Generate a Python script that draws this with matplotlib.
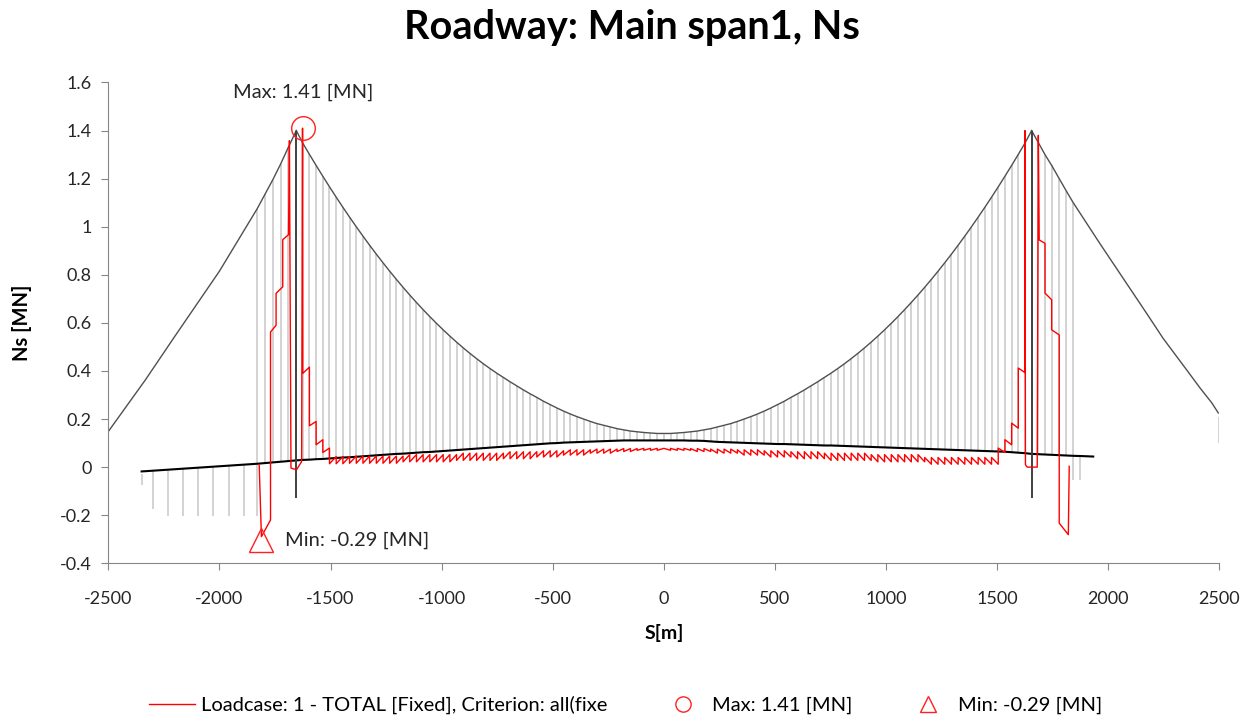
import numpy as np
import matplotlib
matplotlib.use("Agg")
import matplotlib.pyplot as plt
from matplotlib.lines import Line2D

plt.rcParams['font.family'] = ['Lato', 'DejaVu Sans']
plt.rcParams['axes.unicode_minus'] = False

# ---- structure of the bridge ----
hanger_s = np.linspace(-1625, 1625, 109)   # main span hanger positions [m]

cable_top = [1.348, 1.301, 1.255, 1.210, 1.166, 1.123, 1.081, 1.040, 1.000, 0.961,
             0.923, 0.886, 0.850, 0.815, 0.781, 0.748, 0.716, 0.685, 0.655, 0.626,
             0.598, 0.571, 0.545, 0.520, 0.496, 0.473, 0.451, 0.430, 0.410, 0.391,
             0.373, 0.355, 0.338, 0.321, 0.305, 0.290, 0.274, 0.260, 0.246, 0.233,
             0.221, 0.210, 0.200, 0.190, 0.181, 0.174, 0.167, 0.160, 0.155, 0.150,
             0.147, 0.144, 0.142, 0.140, 0.140,
             0.140, 0.142, 0.144, 0.147, 0.150, 0.155, 0.160, 0.167, 0.174, 0.181,
             0.190, 0.200, 0.210, 0.221, 0.233, 0.246, 0.260, 0.274, 0.290, 0.305,
             0.321, 0.338, 0.355, 0.373, 0.391, 0.410, 0.430, 0.451, 0.473, 0.496,
             0.520, 0.545, 0.571, 0.598, 0.626, 0.655, 0.685, 0.716, 0.748, 0.781,
             0.815, 0.850, 0.886, 0.923, 0.961, 1.000, 1.040, 1.081, 1.123, 1.166,
             1.210, 1.255, 1.301, 1.348]

deck_y = [0.030, 0.031, 0.033, 0.034, 0.036, 0.038, 0.040, 0.041, 0.043, 0.045,
          0.047, 0.049, 0.051, 0.053, 0.055, 0.056, 0.058, 0.060, 0.062, 0.063,
          0.065, 0.067, 0.069, 0.071, 0.073, 0.075, 0.077, 0.079, 0.081, 0.083,
          0.085, 0.087, 0.089, 0.091, 0.093, 0.095, 0.097, 0.099, 0.100, 0.102,
          0.103, 0.104, 0.105, 0.106, 0.107, 0.108, 0.109, 0.110, 0.111, 0.111,
          0.111, 0.111, 0.111, 0.111, 0.111,
          0.111, 0.111, 0.111, 0.110, 0.110, 0.109, 0.107, 0.105, 0.104, 0.103,
          0.102, 0.101, 0.100, 0.099, 0.098, 0.097, 0.096, 0.096, 0.095, 0.094,
          0.093, 0.092, 0.091, 0.090, 0.090, 0.089, 0.088, 0.087, 0.086, 0.085,
          0.084, 0.083, 0.082, 0.081, 0.080, 0.079, 0.078, 0.077, 0.076, 0.075,
          0.074, 0.073, 0.072, 0.071, 0.070, 0.069, 0.068, 0.067, 0.066, 0.065,
          0.064, 0.062, 0.060, 0.058]

tower_s = [-1654, 1655]
tower_bot = [-0.13, -0.13]
tower_top = [1.40, 1.40]

left_cable_s = [-2500, -2333, -2200, -2000, -1830, -1795, -1760, -1725, -1690, -1654]
left_cable_v = [0.148, 0.363, 0.545, 0.815, 1.075, 1.135, 1.195, 1.260, 1.330, 1.400]
right_cable_s = [1655, 1685, 1715, 1745, 1779, 1810, 1842, 1962, 2172, 2247, 2352, 2412, 2465, 2495]
right_cable_v = [1.400, 1.350, 1.300, 1.255, 1.200, 1.150, 1.100, 0.930, 0.640, 0.535, 0.405, 0.330, 0.268, 0.225]

side_hanger_s = [-1830, -1795, -1760, -1725, -1690, 1685, 1715, 1745, 1779, 1810, 1842]
side_hanger_top = [1.075, 1.135, 1.195, 1.260, 1.330, 1.350, 1.300, 1.255, 1.200, 1.150, 1.100]
side_hanger_bot = [-0.205, 0.017, 0.020, 0.023, 0.026, 0.054, 0.053, 0.052, 0.050, 0.048, -0.053]

pier_s = [-2350, -2301, -2233, -2165, -2097, -2027, -1959, -1890, 1872, 2500]
pier_top = [-0.030, -0.015, -0.011, -0.006, -0.002, 0.002, 0.006, 0.010, 0.045, 0.210]
pier_bot = [-0.074, -0.175, -0.205, -0.205, -0.205, -0.205, -0.205, -0.205, -0.053, 0.100]

deck_left_s = [-2350, -1830, -1654]
deck_left_v = [-0.018, 0.014, 0.028]
deck_right_s = [1655, 1842, 1880, 1932]
deck_right_v = [0.055, 0.047, 0.046, 0.044]

# ---- Ns result (red) ----
red_left_s = [-1821, -1811, -1770, -1770, -1745, -1745, -1715, -1715, -1689, -1685,
              -1678, -1653, -1630, -1626]
red_left_v = [0.010, -0.289, -0.220, 0.562, 0.590, 0.723, 0.750, 0.946, 0.967, 1.358,
              -0.004, -0.011, 0.023, 1.410]

# saw-tooth between hangers: value at start and end of each hanger interval
saw_start = [0.390, 0.172, 0.093, 0.061, 0.014, 0.014, 0.014, 0.016, 0.016, 0.016,
             0.016, 0.016, 0.016, 0.016, 0.016, 0.022, 0.022, 0.022, 0.022, 0.022,
             0.022, 0.022, 0.022, 0.028, 0.028, 0.028, 0.028, 0.028, 0.028, 0.028,
             0.035, 0.035, 0.035, 0.035, 0.035, 0.042, 0.042, 0.042, 0.042, 0.050,
             0.050, 0.050, 0.050, 0.058, 0.058, 0.058, 0.058, 0.065, 0.065, 0.065,
             0.070, 0.070, 0.070, 0.070,
             0.078, 0.078, 0.078, 0.078, 0.077, 0.077, 0.077, 0.075, 0.075, 0.075,
             0.075, 0.072, 0.072, 0.072, 0.072, 0.068, 0.068, 0.068, 0.068, 0.064,
             0.064, 0.064, 0.064, 0.064, 0.058, 0.058, 0.058, 0.058, 0.058, 0.058,
             0.058, 0.052, 0.052, 0.052, 0.052, 0.052, 0.052, 0.052, 0.052, 0.040,
             0.040, 0.040, 0.040, 0.040, 0.040, 0.040, 0.040, 0.040, 0.040, 0.040,
             0.079, 0.114, 0.183, 0.412]
saw_end = [0.416, 0.190, 0.114, 0.079, 0.044, 0.044, 0.044, 0.046, 0.046, 0.046,
           0.046, 0.046, 0.046, 0.046, 0.046, 0.052, 0.052, 0.052, 0.052, 0.052,
           0.052, 0.052, 0.052, 0.058, 0.058, 0.058, 0.058, 0.058, 0.058, 0.058,
           0.064, 0.064, 0.064, 0.064, 0.064, 0.068, 0.068, 0.068, 0.068, 0.072,
           0.072, 0.072, 0.072, 0.075, 0.075, 0.075, 0.075, 0.077, 0.077, 0.077,
           0.078, 0.078, 0.078, 0.078,
           0.070, 0.070, 0.070, 0.070, 0.065, 0.065, 0.065, 0.058, 0.058, 0.058,
           0.058, 0.050, 0.050, 0.050, 0.050, 0.042, 0.042, 0.042, 0.042, 0.035,
           0.035, 0.035, 0.035, 0.035, 0.028, 0.028, 0.028, 0.028, 0.028, 0.028,
           0.028, 0.022, 0.022, 0.022, 0.022, 0.022, 0.022, 0.022, 0.022, 0.012,
           0.012, 0.012, 0.012, 0.012, 0.012, 0.012, 0.012, 0.012, 0.012, 0.012,
           0.061, 0.093, 0.162, 0.393]

red_right_s = [1625, 1627, 1635, 1680, 1685, 1689, 1715, 1715, 1745, 1745, 1779, 1779, 1820, 1824]
red_right_v = [1.400, 0.010, 0.000, 0.000, 1.380, 0.945, 0.931, 0.724, 0.696, 0.571, 0.550,
               -0.233, -0.281, 0.003]

max_s, max_v = -1623, 1.41
min_s, min_v = -1812, -0.29

# ---- build red polyline ----
saw_s, saw_v = [], []
for j in range(len(saw_start)):
    saw_s += [hanger_s[j], hanger_s[j + 1]]
    saw_v += [saw_start[j], saw_end[j]]
red_s = red_left_s + saw_s + red_right_s
red_v = red_left_v + saw_v + red_right_v

fig = plt.figure(figsize=(12.52, 7.18), dpi=100)
ax = fig.add_axes([0.0865, 0.2155, 0.8875, 0.6696])

grey_h = '#c8c8c8'
# hangers
ax.vlines(hanger_s, deck_y, cable_top, color=grey_h, lw=1.1, zorder=1)
ax.vlines(side_hanger_s, side_hanger_bot, side_hanger_top, color=grey_h, lw=1.1, zorder=1)
ax.vlines(pier_s, pier_bot, pier_top, color=grey_h, lw=1.1, zorder=1)

# cables
main_s = [tower_s[0]] + list(hanger_s) + [tower_s[1]]
main_v = [tower_top[0]] + cable_top + [tower_top[1]]
ax.plot(main_s, main_v, color='#505050', lw=1.0, zorder=2)
ax.plot(left_cable_s, left_cable_v, color='#505050', lw=1.0, zorder=2)
ax.plot(right_cable_s, right_cable_v, color='#505050', lw=1.0, zorder=2)

# deck
ax.plot(deck_left_s + list(hanger_s) + deck_right_s,
        deck_left_v + deck_y + deck_right_v, color='black', lw=1.5, zorder=3)

# towers
ax.vlines(tower_s, tower_bot, tower_top, color='#404040', lw=1.4, zorder=3)

# result
ax.plot(red_s, red_v, color='#ff0000', lw=1.0, zorder=4)
ax.plot([max_s], [max_v], marker='o', ms=17, mfc='none', mec='#ff2020', mew=1.0,
        ls='none', zorder=5)
ax.plot([min_s], [min_v - 0.015], marker='^', ms=17, mfc='none', mec='#ff2020', mew=1.0,
        ls='none', zorder=5)
ax.text(-1940, 1.56, 'Max: 1.41 [MN]', fontsize=14.5, color='#262626', va='center')
ax.text(-1706, -0.305, 'Min: -0.29 [MN]', fontsize=14.5, color='#262626', va='center')

ax.set_xlim(-2500, 2500)
ax.set_ylim(-0.4, 1.6)
ax.set_xticks(np.arange(-2500, 2501, 500))
ax.set_yticks(np.arange(-0.4, 1.61, 0.2))
ax.set_yticklabels(['-0.4', '-0.2', '0', '0.2', '0.4', '0.6', '0.8', '1', '1.2', '1.4', '1.6'])
for sp in ['top', 'right']:
    ax.spines[sp].set_visible(False)
for sp in ['left', 'bottom']:
    ax.spines[sp].set_color('#868686')
ax.tick_params(colors='#868686', labelcolor='#262626', labelsize=13, length=5, direction='out')
ax.tick_params(axis='x', pad=15)
ax.tick_params(axis='y', pad=7)
ax.set_xlabel('S[m]', fontsize=14, fontweight='bold', labelpad=12)
ax.set_ylabel('Ns [MN]', fontsize=14.5, fontweight='bold', labelpad=20)

fig.text(0.505, 0.962, 'Roadway: Main span1, Ns', fontsize=28.5, fontweight='bold',
         ha='center', va='center')

handles = [Line2D([], [], color='#ff0000', lw=1.0),
           Line2D([], [], marker='o', ms=11, mfc='none', mec='#ff2020', ls='none'),
           Line2D([], [], marker='^', ms=11, mfc='none', mec='#ff2020', ls='none')]
labels = ['Loadcase: 1 - TOTAL [Fixed], Criterion: all(fixe', 'Max: 1.41 [MN]', 'Min: -0.29 [MN]']
fig.legend(handles, labels, loc='center', bbox_to_anchor=(0.4995, 0.018), ncol=3,
           frameon=False, fontsize=14.5, columnspacing=2.6, handlelength=2.3, handletextpad=0.3)

fig.savefig('out.png', dpi=100)
